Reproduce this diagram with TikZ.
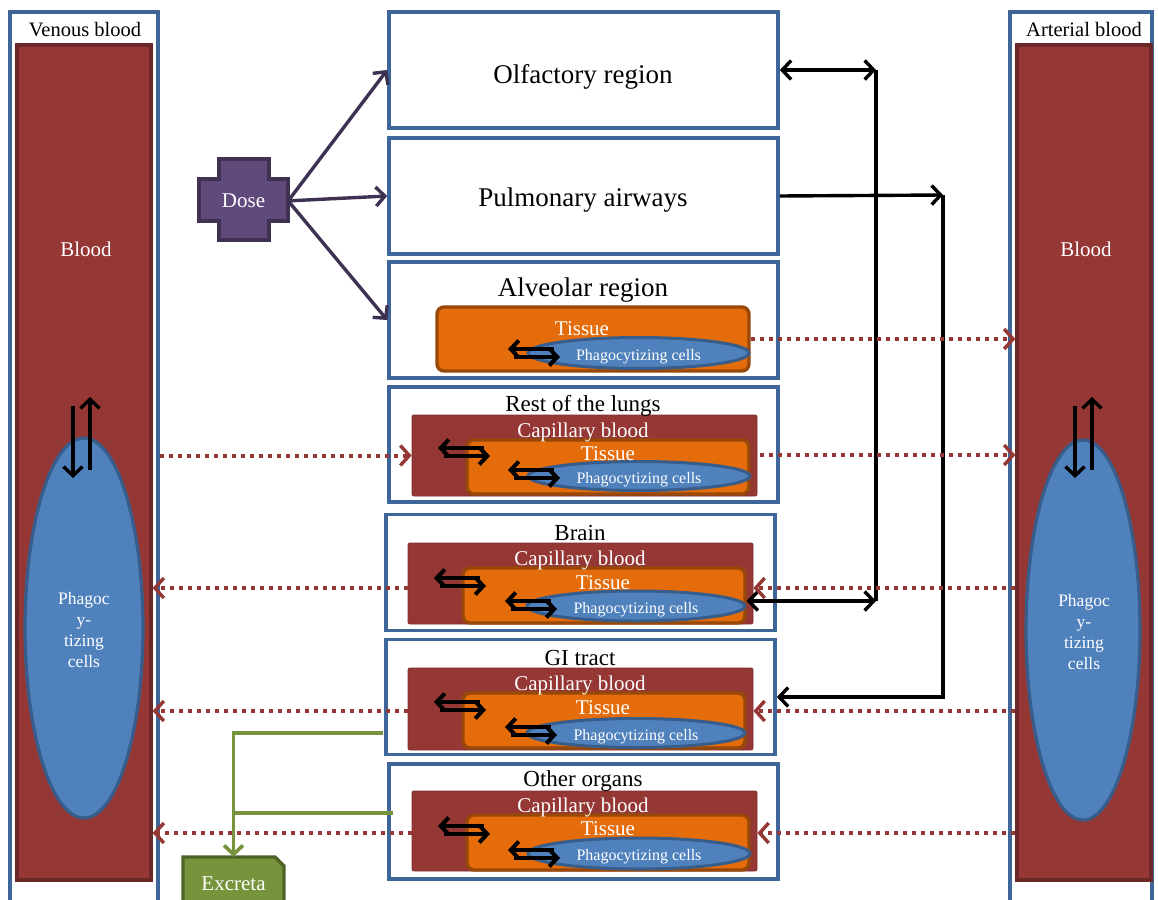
\documentclass[tikz,border=0pt]{standalone}
\usepackage{fontspec}
\setmainfont{Liberation Serif}
\usetikzlibrary{arrows.meta,shapes.geometric,calc}
\definecolor{bord}{HTML}{3E6699}
\definecolor{bred}{HTML}{953735}
\definecolor{bredd}{HTML}{6B2826}
\definecolor{org}{HTML}{E46C0A}
\definecolor{orgd}{HTML}{984807}
\definecolor{ell}{HTML}{4F81BD}
\definecolor{elld}{HTML}{385D8A}
\definecolor{dosef}{HTML}{604A7B}
\definecolor{dosed}{HTML}{3F3151}
\definecolor{grn}{HTML}{77933C}
\definecolor{grnd}{HTML}{4F6228}
\newcommand\fA{\fontsize{27}{30}\selectfont}
\newcommand\fB{\fontsize{23}{26}\selectfont}
\newcommand\fC{\fontsize{21}{24}\selectfont}
\newcommand\fV{\fontsize{20.5}{24}\selectfont}
\newcommand\fD{\fontsize{16}{18}\selectfont}
\newcommand\fE{\fontsize{17.5}{21}\selectfont}
\begin{document}
\begin{tikzpicture}[x=1pt,y=-1pt,
  box/.style={draw=bord,line width=3.6pt,fill=white,inner sep=0pt,rectangle},
  bigred/.style={draw=bredd,line width=3.2pt,fill=bred,inner sep=0pt,rectangle},
  capr/.style={fill=bred,draw=bred!85!black,line width=0.8pt,rounded corners=2pt,inner sep=0pt,rectangle},
  tis/.style={fill=org,draw=orgd,line width=3.4pt,rounded corners=7pt,inner sep=0pt,rectangle},
  phag/.style={ellipse,fill=ell,draw=elld,line width=3pt,inner sep=0pt,text=white,font=\fD,text height=14pt,text depth=0pt},
  bigphag/.style={ellipse,fill=ell,draw=elld,line width=3.2pt,inner sep=0pt},
  lbl/.style={inner sep=0pt,anchor=base},
  wlbl/.style={inner sep=0pt,anchor=base,text=white},
  dotarr/.style={draw=bred,line width=4pt,dash pattern=on 4pt off 5pt,
     -{Straight Barb[length=9pt,width=20pt,line width=3.4pt]}},
  blkarr/.style={draw=black,line width=3.4pt,-{Straight Barb[length=9pt,width=19pt]}},
  blkboth/.style={draw=black,line width=3.4pt,{Straight Barb[length=9pt,width=19pt]}-{Straight Barb[length=9pt,width=19pt]}},
  blkline/.style={draw=black,line width=3.4pt},
  xarr/.style={draw=black,line width=4pt,-{Straight Barb[length=8pt,width=17pt]}},
  dosearr/.style={draw=dosed,line width=3.4pt,-{Straight Barb[length=9pt,width=19pt]}},
  grnl/.style={draw=grn,line width=3.6pt}
]
\useasboundingbox[fill=white] (0,0) rectangle (1158,899);

% ---------------- Venous blood ----------------
\node[box,minimum width=148pt,minimum height=900pt] (vbox) at (84,462) {};
\node[bigred,minimum width=134pt,minimum height=835pt] (vred) at (84,462.5) {};
\node[lbl,font=\fV] (vlab) at (85,37) {Venous blood};
\node[wlbl,font=\fC] (vblood) at (86,256) {Blood};
\node[bigphag,minimum width=118pt,minimum height=380pt] (vphag) at (84,628) {};
\node[inner sep=0pt,align=center,text=white,font=\fE] (vphagt) at (84,629.6) {Phagoc\\y-\\tizing\\cells};

% ---------------- Arterial blood ----------------
\node[box,minimum width=142pt,minimum height=900pt] (abox) at (1081,462) {};
\node[bigred,minimum width=134pt,minimum height=835pt] (ared) at (1084,462.5) {};
\node[lbl,font=\fV] (alab) at (1084,37) {Arterial blood};
\node[wlbl,font=\fC] (ablood) at (1086,256) {Blood};
\node[bigphag,minimum width=114pt,minimum height=380pt] (aphag) at (1083,630) {};
\node[inner sep=0pt,align=center,text=white,font=\fE] (aphagt) at (1084,631.6) {Phagoc\\y-\\tizing\\cells};

% ---------------- Olfactory / Pulmonary ----------------
\node[box,minimum width=389pt,minimum height=116pt] (olf) at (583.5,70) {};
\node[lbl,font=\fA] (olft) at (583,83) {Olfactory region};
\node[box,minimum width=389pt,minimum height=116pt] (pulm) at (583.5,196) {};
\node[lbl,font=\fA] (pulmt) at (583,206) {Pulmonary airways};

% ---------------- Alveolar ----------------
\node[box,minimum width=389pt,minimum height=116pt] (alv) at (583.5,320) {};
\node[tis,minimum width=312pt,minimum height=64pt] (alvT) at (593,339) {};
\node[phag,minimum width=221pt,minimum height=31pt] (alvP) at (638.5,353) {Phagocytizing cells};
\node[lbl,font=\fA] (alvt) at (583,296) {Alveolar region};
\node[wlbl,font=\fC] (alvTt) at (582,335) {Tissue};

% ---------------- Rest of the lungs ----------------
\node[box,minimum width=389pt,minimum height=115pt] (rest) at (583.5,444.5) {};
\node[capr,minimum width=345pt,minimum height=81pt] (restC) at (584.5,455.5) {};
\node[tis,minimum width=282pt,minimum height=54pt] (restT) at (608,467) {};
\node[phag,minimum width=222pt,minimum height=29pt] (restP) at (639,476) {Phagocytizing cells};
\node[lbl,font=\fB] (restt) at (583,411) {Rest of the lungs};
\node[wlbl,font=\fC] (restCt) at (583,437) {Capillary blood};
\node[wlbl,font=\fC] (restTt) at (608,460) {Tissue};

% ---------------- Brain ----------------
\node[box,minimum width=389pt,minimum height=116pt] (brain) at (580.5,572.5) {};
\node[capr,minimum width=345pt,minimum height=81pt] (brC) at (580.5,583.5) {};
\node[tis,minimum width=282pt,minimum height=55pt] (brT) at (604,595.5) {};
\node[phag,minimum width=218pt,minimum height=30pt] (brP) at (636,606) {Phagocytizing cells};
\node[lbl,font=\fB] (braint) at (580,540) {Brain};
\node[wlbl,font=\fC] (brCt) at (580,565) {Capillary blood};
\node[wlbl,font=\fC] (brTt) at (603,589) {Tissue};

% ---------------- GI tract ----------------
\node[box,minimum width=389pt,minimum height=115pt] (gi) at (580.5,697) {};
\node[capr,minimum width=345pt,minimum height=82pt] (giC) at (580.5,709) {};
\node[tis,minimum width=282pt,minimum height=55pt] (giT) at (604,720.5) {};
\node[phag,minimum width=218pt,minimum height=29pt] (giP) at (636,733) {Phagocytizing cells};
\node[lbl,font=\fB] (git) at (580,665) {GI tract};
\node[wlbl,font=\fC] (giCt) at (580,690) {Capillary blood};
\node[wlbl,font=\fC] (giTt) at (603,714) {Tissue};

% ---------------- Other organs ----------------
\node[box,minimum width=389pt,minimum height=115pt] (oth) at (583.5,821.5) {};
\node[capr,minimum width=345pt,minimum height=80pt] (oC) at (584.5,831) {};
\node[tis,minimum width=282pt,minimum height=55pt] (oT) at (608,842.5) {};
\node[phag,minimum width=222pt,minimum height=31pt] (oP) at (639,853.5) {Phagocytizing cells};
\node[lbl,font=\fB] (otht) at (583,786) {Other organs};
\node[wlbl,font=\fC] (oCt) at (583,812) {Capillary blood};
\node[wlbl,font=\fC] (oTt) at (608,835) {Tissue};

% ---------------- exchange arrows ----------------
\newcommand\xch[2]{%
  \draw[xarr] (#1+46,#2) -- (#1,#2);
  \draw[xarr] (#1+6,#2+8) -- (#1+52,#2+8);}
\xch{508}{349}
\xch{438}{448}\xch{508}{470}
\xch{434}{578}\xch{505}{601}
\xch{434}{702}\xch{505}{727}
\xch{438}{826}\xch{508}{850}

% venous / arterial vertical arrows
\draw[blkarr] (73,406) -- (73,478);
\draw[blkarr] (90,470) -- (90,397);
\draw[blkarr] (1075,406) -- (1075,478);
\draw[blkarr] (1092,470) -- (1092,397);

% ---------------- Dose ----------------
\filldraw[fill=dosef,draw=dosed,line width=3.2pt]
  (219,159) -- (269,159) -- (269,179) -- (288,179) -- (288,221) -- (269,221) --
  (269,240) -- (219,240) -- (219,221) -- (199,221) -- (199,179) -- (219,179) -- cycle;
\node[inner sep=0pt,minimum width=89pt,minimum height=42pt,text=white,font=\fC] (dose) at (243.5,200.9) {Dose};
\draw[dosearr] (dose.east) -- (olf.west);
\draw[dosearr] (dose.east) -- (pulm.west);
\draw[dosearr] (dose.east) -- (alv.west);

% ---------------- black connectors ----------------
\coordinate (j1) at (876,70);
\coordinate (j2) at (876,601);
\draw[blkboth] (olf.east) -- (j1);
\draw[blkline] (j1) -- (j2);
\draw[blkboth] (j2 -| brP.east) -- (j2);
\coordinate (k1) at (943,195);
\coordinate (k2) at (943,697);
\draw[blkarr] (pulm.east) -- (k1);
\draw[blkarr] (k1) -- (k2) -- (k2 -| gi.east);

% ---------------- dotted transfer arrows ----------------
\draw[dotarr] (alvT.east) -- (alvT.east -| ared.west);
\draw[dotarr] (vbox.east |- restC.west) -- (restC.west);
\coordinate (rR) at ([yshift=12pt]restT.east);
\draw[dotarr] (rR) -- (rR -| ared.west);
\coordinate (bR) at ([yshift=-4.5pt]brC.east);
\coordinate (bL) at ([yshift=-4.5pt]brC.west);
\draw[dotarr] (bR -| ared.west) -- (bR);
\draw[dotarr] (bL) -- (bL -| vred.east);
\coordinate (gR) at ([yshift=-2pt]giC.east);
\coordinate (gL) at ([yshift=-2pt]giC.west);
\draw[dotarr] (gR -| ared.west) -- (gR);
\draw[dotarr] (gL) -- (gL -| vred.east);
\coordinate (oR) at ([yshift=-2pt]oC.east);
\coordinate (oL) at ([yshift=-2pt]oC.west);
\draw[dotarr] (oR -| ared.west) -- (oR);
\draw[dotarr] (oL) -- (oL -| vred.east);

% ---------------- Excreta ----------------
\filldraw[fill=grn,draw=grnd,line width=3.2pt]
  (183,857) -- (275,857) -- (284,866) -- (284,912) -- (183,912) -- cycle;
\node[inner sep=0pt,minimum width=101pt,minimum height=53pt,text=white,font=\fC] (exc) at (233.5,883.5) {Excreta};
\coordinate (g1) at (383,733);
\coordinate (g2) at (233.5,733);
\coordinate (g3) at (393,813);
\coordinate (g4) at (233.5,813);
\draw[grnl] (g3) -- (g4);
\draw[grnl,-{Straight Barb[length=9pt,width=19pt]}] (g1) -- (g2) -- (exc.north);
\end{tikzpicture}
\end{document}
